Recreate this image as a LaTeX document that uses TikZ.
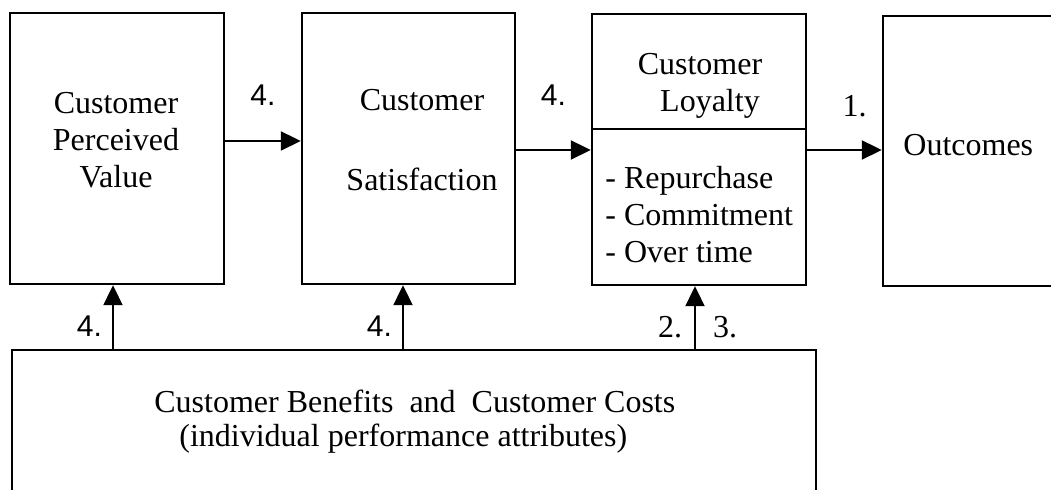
\documentclass[tikz,border=0pt]{standalone}
\usepackage{fontspec}
\setmainfont{Liberation Serif}
\newfontfamily\arialfont{Liberation Sans}
\usetikzlibrary{arrows.meta}

\begin{document}
\begin{tikzpicture}[x=0.5pt,y=-0.5pt,
		caixa/.style={draw, line width=1.2pt, rectangle, inner sep=0pt},
		seta/.style={line width=1pt, -{Triangle[length=10pt,width=9.5pt]}},
		texto/.style={font=\fontsize{16}{18.5}\selectfont, inner sep=0pt},
		rotulo/.style={font=\fontsize{16}{18.5}\selectfont, inner sep=0pt},
		rotulosans/.style={font=\arialfont\fontsize{15}{18}\selectfont, inner sep=0pt}]
		\clip (0,0) rectangle (1051,490);
		\fill[white] (0,0) rectangle (1051,490);
		
		% Caixas
		\node[caixa, minimum width=107pt, minimum height=135.5pt] (valor) at (117,148.5) {};
		\node[caixa, minimum width=106.5pt, minimum height=135.5pt] (satisf) at (408.5,148.5) {};
		\node[caixa, minimum width=107pt, minimum height=135.5pt] (lealdade) at (699,149.5) {};
		\node[caixa, minimum width=133.5pt, minimum height=135pt] (resultado) at (1016.5,151) {};
		\node[caixa, minimum width=402pt, minimum height=135pt] (beneficios) at (414,485) {};
		\draw[line width=1.2pt] ([yshift=-58pt]lealdade.north west) -- ([yshift=-58pt]lealdade.north east); % Divisao
		
		% Textos
		\node[texto, align=center] (tvalor) at (116,140) {Customer\\Perceived\\Value};
		\node[texto, align=center] (tsatisf) at (422,140) {Customer\\[21.5pt]Satisfaction};
		\node[texto, align=center] (tlealdade) at (700,86) {Customer\\\hspace*{10pt}Loyalty};
		\node[texto, align=left, anchor=west] (itens) at (605,215) {- Repurchase\\- Commitment\\- Over time};
		\node[texto, anchor=west] (tresultado) at (903,145) {Outcomes};
		\node[texto, align=left, anchor=west, font=\fontsize{16}{17}\selectfont] (tbeneficios) at (154,422)
			{Customer Benefits\ \ and\ \ Customer Costs\\\hspace*{12.5pt}(individual performance attributes)};
		
		% Setas horizontais
		\draw[seta] ([yshift=3.75pt]valor.east) -- node[rotulosans, midway, above=17pt] {4.} ([yshift=3.75pt]valor.east -| satisf.west);
		\draw[seta] ([yshift=-0.75pt]satisf.east) -- node[rotulosans, midway, above=21.5pt] {4.} ([yshift=-0.75pt]satisf.east -| lealdade.west);
		\draw[seta] ([yshift=-0.25pt]lealdade.east) -- node[rotulo, midway, above=16pt, xshift=5pt] {1.} ([yshift=-0.25pt]lealdade.east -| resultado.west);
		
		% Setas verticais
		\coordinate (p1) at ([xshift=-2pt]valor.south);
		\coordinate (p2) at ([xshift=-2.75pt]satisf.south);
		\coordinate (p3) at ([xshift=-2pt]lealdade.south);
		\draw[seta] (p1 |- beneficios.north) -- node[rotulosans, pos=0.35, left=5pt] {4.} (p1);
		\draw[seta] (p2 |- beneficios.north) -- node[rotulosans, pos=0.35, left=5pt] {4.} (p2);
		\draw[seta] (p3 |- beneficios.north) -- node[rotulo, pos=0.35, left=6pt] {2.} node[rotulo, pos=0.35, right=8.5pt] {3.} (p3);
	\end{tikzpicture}
\end{document}
